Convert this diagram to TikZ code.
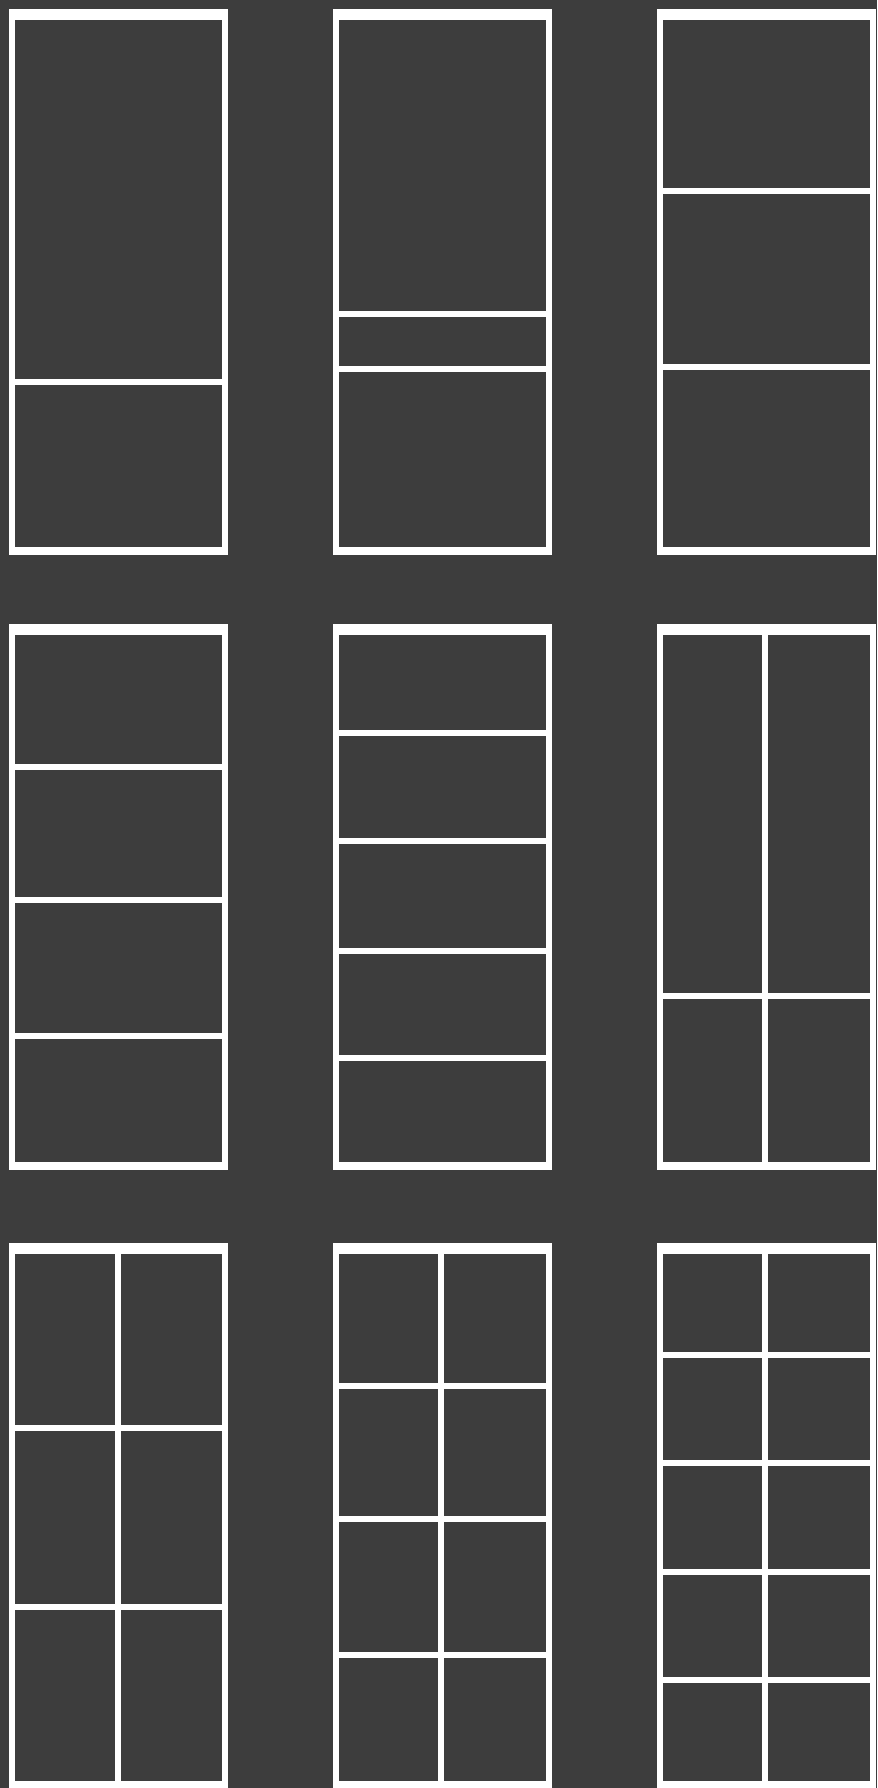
\documentclass[tikz,border=0pt]{standalone}
\usepackage{tikz}

\begin{document}
\begin{tikzpicture}[x=0.02cm, y=-0.02cm,
    chalk/.style={fill=white},
    board/.style={fill=boardgray},
]

% Colors
\definecolor{boardgray}{HTML}{3D3D3D}

\newcommand{\drawframe}[2]{%
  \fill[chalk] (#1,#2) rectangle (#1+219,#2+546);
  \fill[board] (#1+6,#2+11) rectangle (#1+213,#2+538);
}

\newcommand{\rowcut}[1]{%
  \fill[chalk] (\px,\py+#1-3) rectangle (\px+219,\py+#1+3);
}

\newcommand{\colcut}[1]{%
  \fill[chalk] (\px+#1-3,\py) rectangle (\px+#1+3,\py+546);
}

% Board
\fill[board] (0,0) rectangle (877,1788);
\useasboundingbox (0,0) rectangle (877,1788);

% === Row 1 ===
\def\px{9}\def\py{9}
\drawframe{\px}{\py}
\rowcut{373}

\def\px{333}
\drawframe{\px}{\py}
\rowcut{305}
\rowcut{360}

\def\px{657}
\drawframe{\px}{\py}
\rowcut{182}
\rowcut{358}

% === Row 2 ===
\def\px{9}\def\py{624}
\drawframe{\px}{\py}
\foreach \h in {143,276,412} {\rowcut{\h}}

\def\px{333}
\drawframe{\px}{\py}
\foreach \h in {109,217,327,434} {\rowcut{\h}}

\def\px{657}
\drawframe{\px}{\py}
\colcut{108}
\rowcut{372}

% === Row 3 ===
\def\px{9}\def\py{1243}
\drawframe{\px}{\py}
\colcut{109}
\foreach \h in {185,364} {\rowcut{\h}}

\def\px{333}
\drawframe{\px}{\py}
\colcut{108}
\foreach \h in {143,276,412} {\rowcut{\h}}

\def\px{657}
\drawframe{\px}{\py}
\colcut{108}
\foreach \h in {112,220,329,437} {\rowcut{\h}}
\end{tikzpicture}
\end{document}
